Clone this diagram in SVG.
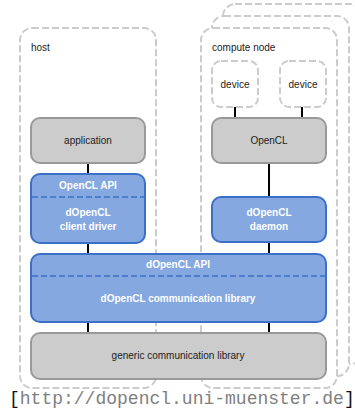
<svg xmlns="http://www.w3.org/2000/svg" width="355" height="411" viewBox="0 0 355 411">
<style>
.cont{fill:#fff;stroke:#cccccc;stroke-width:2;stroke-dasharray:7 3}
.gray{fill:#cccccc;stroke:#999999;stroke-width:2}
.blue{fill:#84a8df;stroke:#3b70c6;stroke-width:2}
.div{stroke:#3b70c6;stroke-width:1.5;stroke-dasharray:6 3;fill:none}
.conn{stroke:#000;stroke-width:2;fill:none}
text{font-family:"Liberation Sans",Arial,sans-serif;font-size:10px}
.lbl{fill:#222}
.wt{fill:#fff;font-weight:bold;text-anchor:middle}
.bt{fill:#222;text-anchor:middle}
.url{font-family:"Liberation Mono","Courier New",monospace;font-size:18px;fill:#808080}
</style>
<rect width="355" height="411" fill="#fff"/>
<g id="compute-node-3"><rect class="cont" x="223" y="4" width="140" height="360" rx="12"/></g>
<g id="compute-node-2"><rect class="cont" x="212" y="16" width="137" height="360" rx="12"/></g>
<g id="host"><rect class="cont" x="20" y="28" width="136" height="360" rx="12"/><text class="lbl" x="31" y="51">host</text></g>
<g id="compute-node"><rect class="cont" x="201" y="28" width="136" height="360" rx="12"/><text class="lbl" x="212" y="51">compute node</text></g>
<g id="connectors">
<line class="conn" x1="235" y1="107" x2="235" y2="118"/>
<line class="conn" x1="302" y1="107" x2="302" y2="118"/>
<line class="conn" x1="269" y1="163" x2="269" y2="197"/>
<line class="conn" x1="269" y1="242" x2="269" y2="254"/>
<line class="conn" x1="88" y1="163" x2="88" y2="174"/>
<line class="conn" x1="88" y1="243" x2="88" y2="254"/>
<line class="conn" x1="88" y1="322" x2="88" y2="333"/>
<line class="conn" x1="269" y1="322" x2="269" y2="333"/>
</g>
<g id="device1"><rect class="cont" x="212" y="61" width="46" height="46" rx="9"/><text class="bt" x="235" y="88">device</text></g>
<g id="device2"><rect class="cont" x="280" y="61" width="46" height="46" rx="9"/><text class="bt" x="303" y="88">device</text></g>
<g id="opencl"><rect class="gray" x="212" y="118" width="114" height="45" rx="9"/><text class="bt" x="269" y="144">OpenCL</text></g>
<g id="application"><rect class="gray" x="31" y="118" width="114" height="45" rx="9"/><text class="bt" x="88" y="144">application</text></g>
<g id="client-driver"><rect class="blue" x="31" y="174" width="114" height="69" rx="9"/><line class="div" x1="32" y1="197" x2="144" y2="197"/><text class="wt" x="88" y="189">OpenCL API</text><text class="wt" x="88" y="216">dOpenCL</text><text class="wt" x="88" y="230">client driver</text></g>
<g id="daemon"><rect class="blue" x="212" y="197" width="114" height="45" rx="9"/><text class="wt" x="269" y="216">dOpenCL</text><text class="wt" x="269" y="230">daemon</text></g>
<g id="comm-lib"><rect class="blue" x="31" y="254" width="295" height="68" rx="9"/><line class="div" x1="32" y1="276" x2="325" y2="276"/><text class="wt" x="178" y="268">dOpenCL API</text><text class="wt" x="178" y="302">dOpenCL communication library</text></g>
<g id="generic"><rect class="gray" x="31" y="333" width="295" height="46" rx="9"/><text class="bt" x="178" y="359">generic communication library</text></g>
<text class="url" x="9" y="404"><tspan fill="#111">[</tspan>http://dopencl.uni-muenster.de<tspan fill="#111">]</tspan></text>
</svg>
